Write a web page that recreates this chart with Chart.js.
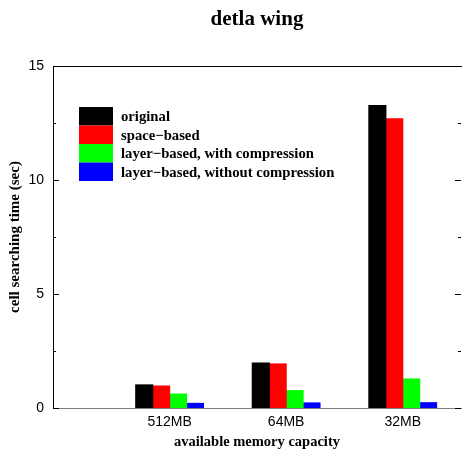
<!DOCTYPE html>
<html>
<head>
<meta charset="utf-8">
<script src="https://cdn.jsdelivr.net/npm/chart.js@4"></script>
<style>
  html, body { margin: 0; padding: 0; background: #fff; }
  #wrap { width: 462px; height: 453px; position: relative; }
</style>
</head>
<body>
<div id="wrap"><canvas id="chart"></canvas></div>
<script>
const categories = ['512MB', '64MB', '32MB'];
const seriesNames = ['original', 'space\u2212based', 'layer\u2212based, with compression', 'layer\u2212based, without compression'];
const seriesColors = ['#000000', '#ff0000', '#00ff00', '#0000ff'];
const original = [1.01, 1.97, 13.26];
const spaceBased = [0.96, 1.93, 12.68];
const layerWithComp = [0.61, 0.76, 1.27];
const layerWithoutComp = [0.20, 0.22, 0.23];
const yTicks = [0, 5, 10, 15];

const serif = "'Liberation Serif', 'Times New Roman', serif";
const sans = "'Liberation Sans', Arial, sans-serif";

// bars sit at x = 1, 2, 3 on a 0..3.5 axis, like the gnuplot original
const toPoints = vals => vals.map((v, i) => ({ x: i + 1, y: v }));

const frame = {
  id: 'frame',
  afterDraw(chart) {
    const { ctx, chartArea: a, scales: { y } } = chart;
    ctx.save();
    ctx.strokeStyle = '#000';
    ctx.lineWidth = 1;
    ctx.beginPath();
    ctx.moveTo(a.left, a.top + 0.5);
    ctx.lineTo(a.right + 2, a.top + 0.5);
    // inward ticks, major every 5, minor every 2.5
    for (let v = 0; v <= 15; v += 2.5) {
      const py = Math.round(y.getPixelForValue(v)) + 0.5;
      const len = v % 5 === 0 ? 6 : 3;
      ctx.moveTo(a.left, py); ctx.lineTo(a.left + len, py);
      ctx.moveTo(a.right, py); ctx.lineTo(a.right - len, py);
    }
    ctx.stroke();

    // legend inside the plot
    const lx = a.left + 26, ly = a.top + 41, bw = 34, bh = 18.5;
    ctx.font = 'bold 14.7px ' + serif;
    ctx.textBaseline = 'middle';
    chart.data.datasets.forEach((ds, i) => {
      ctx.fillStyle = ds.backgroundColor;
      ctx.fillRect(lx, ly + i * bh, bw, bh);
      ctx.fillStyle = '#000';
      ctx.fillText(ds.label, lx + bw + 8, ly + i * bh + bh / 2 + 1);
    });
    ctx.restore();
  }
};

new Chart(document.getElementById('chart'), {
  type: 'bar',
  data: {
    datasets: [original, spaceBased, layerWithComp, layerWithoutComp].map((vals, i) => ({
      label: seriesNames[i],
      data: toPoints(vals),
      backgroundColor: seriesColors[i],
      borderWidth: 0,
      inflateAmount: 0.6,
      categoryPercentage: 0.58,
      barPercentage: 1,
    })),
  },
  options: {
    responsive: true,
    maintainAspectRatio: false,
    animation: false,
    devicePixelRatio: 1,
    layout: { padding: { right: 1 } },
    plugins: {
      legend: { display: false },
      tooltip: { enabled: false },
      title: {
        display: true,
        text: 'detla wing',
        fullSize: false,
        color: '#000',
        font: { family: serif, size: 21, weight: 'bold' },
        padding: { top: 7, bottom: 33.8 },
      },
    },
    scales: {
      x: {
        type: 'linear',
        offset: false,
        min: 0,
        max: 3.5,
        afterBuildTicks: s => { s.ticks = categories.map((c, i) => ({ value: i + 1 })); },
        afterFit: s => { s.height = 45; },
        grid: { display: false, drawTicks: false },
        border: { color: '#808080', width: 1 },
        ticks: {
          color: '#000',
          padding: 6,
          font: { family: sans, size: 14 },
          callback: v => categories[v - 1] || '',
        },
        title: {
          display: true,
          text: 'available memory capacity',
          color: '#000',
          font: { family: serif, size: 14.5, weight: 'bold' },
          padding: { top: 0, bottom: 2 },
        },
      },
      y: {
        min: 0,
        max: 15,
        afterBuildTicks: s => { s.ticks = yTicks.map(v => ({ value: v })); },
        afterFit: s => { s.width = 53; },
        grid: { display: false, drawTicks: false },
        border: { color: '#000', width: 1 },
        ticks: {
          color: '#000',
          padding: 9,
          font: { family: sans, size: 14 },
        },
        title: {
          display: true,
          text: 'cell searching time (sec)',
          color: '#000',
          font: { family: serif, size: 15, weight: 'bold' },
          padding: { top: 6, bottom: 0 },
        },
      },
    },
  },
  plugins: [frame],
});
</script>
</body>
</html>
